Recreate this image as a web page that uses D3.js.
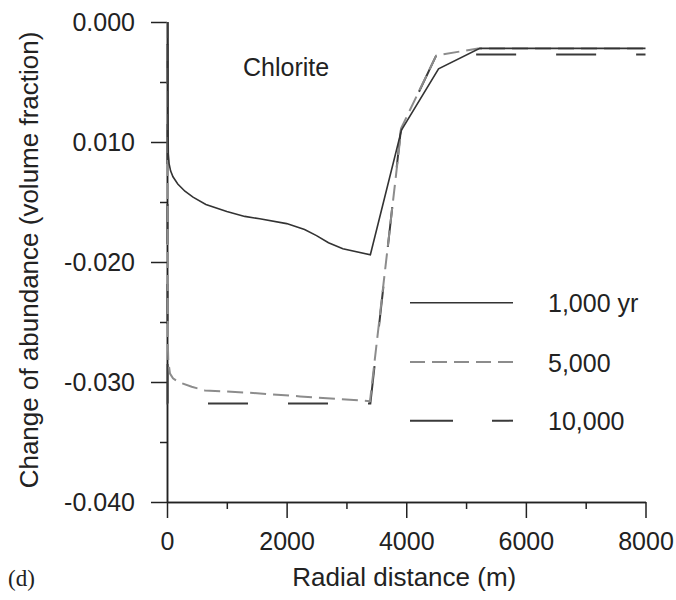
<!DOCTYPE html>
<html>
<head>
<meta charset="utf-8">
<script src="https://cdn.jsdelivr.net/npm/d3@7/dist/d3.min.js"></script>
<style>
  html, body { margin: 0; padding: 0; background: #fff; }
  svg { display: block; }
  text { font-family: "Liberation Sans", Arial, Helvetica, sans-serif; fill: #222; }
</style>
</head>
<body>
<svg id="chart" width="676" height="600"></svg>
<script>
// ---- data ----
const yearLabels = ["1,000 yr", "5,000", "10,000"];

const dist1000 = [15, 18, 22, 35, 60, 100, 180, 300, 435, 650, 1000, 1300, 1550, 2000, 2300, 2500, 2700, 2940, 3400, 3920, 4540, 5230, 8000];
const val1000  = [0, -0.0090, -0.0110, -0.0118, -0.0124, -0.0129, -0.0135, -0.0141, -0.0146, -0.0152, -0.0158, -0.0162, -0.0164, -0.0168, -0.0173, -0.0178, -0.0184, -0.0189, -0.0194, -0.0090, -0.0039, -0.0022, -0.0022];

const dist5000 = [10, 15, 22, 50, 100, 189, 413, 635, 1000, 1388, 2224, 3394, 3920, 4500, 5200, 8000];
const val5000  = [0, -0.0270, -0.0283, -0.0293, -0.0297, -0.0300, -0.0304, -0.0307, -0.0308, -0.0309, -0.0312, -0.0316, -0.0088, -0.0028, -0.0022, -0.0022];

const dist10000 = [8, 10, 3400, 3910, 4500, 5200, 8000];
const val10000  = [0, -0.0318, -0.0318, -0.0090, -0.0028, -0.0027, -0.0027];

const xMajorTicks = [0, 2000, 4000, 6000, 8000];
const xMinorTicks = [1000, 3000, 5000, 7000];
const yMajorTicks = [0, -0.01, -0.02, -0.03, -0.04];
const yTickLabels = ["0.000", "0.010", "-0.020", "-0.030", "-0.040"];
const yMinorTicks = [-0.005, -0.015, -0.025, -0.035];

// ---- layout ----
const svg = d3.select("#chart");
const x = d3.scaleLinear().domain([0, 8000]).range([167, 645.5]);
const y = d3.scaleLinear().domain([-0.04, 0]).range([502, 22]);

const fontSize = 25;

// x axis: minor then major
const gxMinor = svg.append("g").attr("transform", `translate(0,${y(-0.04)})`)
  .call(d3.axisBottom(x).tickValues(xMinorTicks).tickSize(7).tickSizeOuter(0).tickFormat(""));
const gx = svg.append("g").attr("transform", `translate(0,${y(-0.04)})`)
  .call(d3.axisBottom(x).tickValues(xMajorTicks).tickSize(16).tickSizeOuter(0).tickFormat(d3.format("d")));

const gyMinor = svg.append("g").attr("transform", `translate(${x(0)},0)`)
  .call(d3.axisLeft(y).tickValues(yMinorTicks).tickSize(7).tickSizeOuter(0).tickFormat(""));
const gy = svg.append("g").attr("transform", `translate(${x(0)},0)`)
  .call(d3.axisLeft(y).tickValues(yMajorTicks).tickSize(16).tickSizeOuter(0).tickPadding(16)
    .tickFormat((d, i) => yTickLabels[i]));

[gxMinor, gx, gyMinor, gy].forEach(g => {
  g.selectAll("path.domain").attr("stroke", "#222").attr("stroke-width", 1.5);
  g.selectAll(".tick line").attr("stroke", "#222").attr("stroke-width", 1.5);
});
gx.selectAll(".tick text").attr("dy", null).attr("y", 48)
  .attr("font-size", fontSize).attr("fill", "#222").attr("font-family", "Liberation Sans, Arial, sans-serif");
gy.selectAll(".tick text").attr("dy", "0.35em")
  .attr("font-size", fontSize).attr("fill", "#222").attr("font-family", "Liberation Sans, Arial, sans-serif");

// ---- series ----
const line = d3.line().x(d => x(d[0])).y(d => y(d[1]));
const zip = (a, b) => a.map((v, i) => [v, b[i]]);

const styles = [
  { color: "#333", width: 1.6, dash: null, offset: 0 },
  { color: "#8c8c8c", width: 2, dash: "16,7", offset: 0 },
  { color: "#3a3a3a", width: 2, dash: "40,40", offset: 58 }
];
const series = [zip(dist1000, val1000), zip(dist5000, val5000), zip(dist10000, val10000)];

// draw 10,000 first, then 5,000, then 1,000 on top
[2, 1, 0].forEach(i => {
  const p = svg.append("path").datum(series[i])
    .attr("d", line)
    .attr("fill", "none")
    .attr("stroke", styles[i].color)
    .attr("stroke-width", styles[i].width);
  if (styles[i].dash) p.attr("stroke-dasharray", styles[i].dash).attr("stroke-dashoffset", styles[i].offset);
});

// ---- legend ----
const legY = [302.7, 362, 420.7];
yearLabels.forEach((lab, i) => {
  const l = svg.append("line")
    .attr("x1", 410).attr("x2", 513).attr("y1", legY[i]).attr("y2", legY[i])
    .attr("stroke", styles[i].color).attr("stroke-width", styles[i].width);
  if (styles[i].dash) l.attr("stroke-dasharray", i === 2 ? "43,39" : "15,7");
  svg.append("text").attr("x", 548).attr("y", legY[i] + 9.5)
    .attr("font-size", fontSize).text(lab);
});

// ---- titles ----
svg.append("text").attr("x", 243).attr("y", 76).attr("font-size", fontSize).text("Chlorite");

svg.append("text")
  .attr("x", (x(0) + x(8000)) / 2 - 2).attr("y", 586)
  .attr("text-anchor", "middle").attr("font-size", 26)
  .text("Radial distance (m)");

svg.append("text")
  .attr("transform", `translate(38,${260}) rotate(-90)`)
  .attr("text-anchor", "middle").attr("font-size", 26)
  .text("Change of abundance (volume fraction)");

svg.append("text")
  .attr("x", 8).attr("y", 586)
  .attr("font-size", 23)
  .style("font-family", "'Liberation Serif', 'Times New Roman', serif")
  .text("(d)");
</script>
</body>
</html>
